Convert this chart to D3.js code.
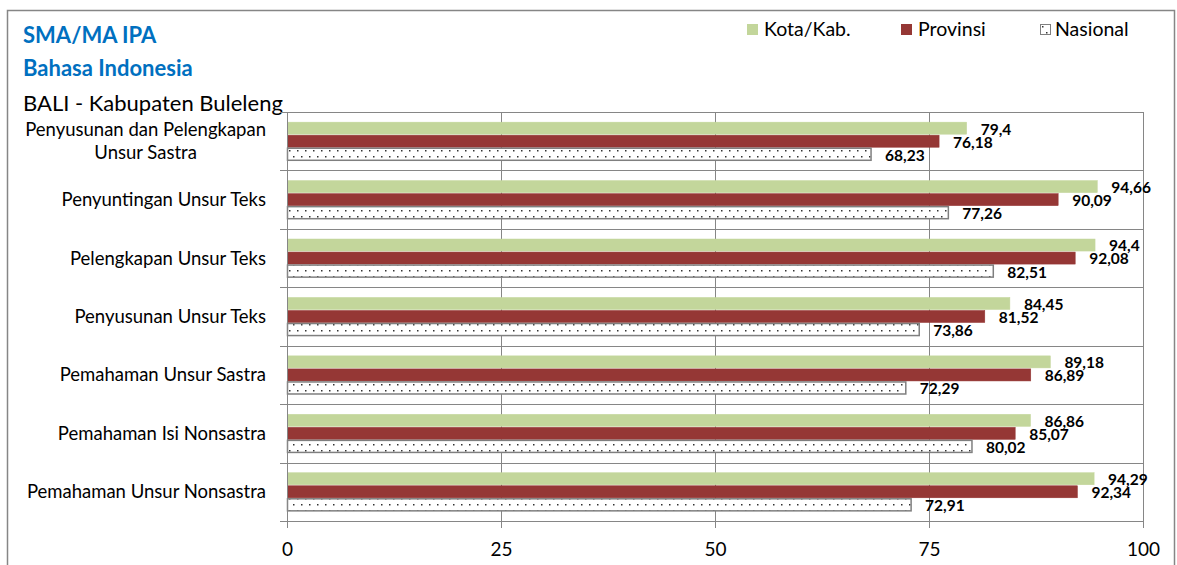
<!DOCTYPE html>
<html>
<head>
<meta charset="utf-8">
<script src="https://cdn.jsdelivr.net/npm/d3@7"></script>
<style>
  body { margin: 0; background: #fff; }
  svg { display: block; font-family: Lato, "Open Sans", sans-serif; }
</style>
</head>
<body>
<svg id="vis" width="1177" height="565"></svg>
<script>
/* global d3 */

// Data, top category first
const categories = [
  'Penyusunan dan Pelengkapan Unsur Sastra',
  'Penyuntingan Unsur Teks',
  'Pelengkapan Unsur Teks',
  'Penyusunan Unsur Teks',
  'Pemahaman Unsur Sastra',
  'Pemahaman Isi Nonsastra',
  'Pemahaman Unsur Nonsastra',
];
const seriesNames = ['Kota/Kab.', 'Provinsi', 'Nasional'];
const kotaValues = [79.4, 94.66, 94.4, 84.45, 89.18, 86.86, 94.29];
const provinsiValues = [76.18, 90.09, 92.08, 81.52, 86.89, 85.07, 92.34];
const nasionalValues = [68.23, 77.26, 82.51, 73.86, 72.29, 80.02, 72.91];
const xTicks = [0, 25, 50, 75, 100];
const titleLines = ['SMA/MA IPA', 'Bahasa Indonesia'];
const subtitle = 'BALI - Kabupaten Buleleng';

const values = [kotaValues, provinsiValues, nasionalValues];
const fills = ['#c3d69b', '#953735', 'url(#dots)'];
const strokes = ['#c3d69b', '#953735', '#7f7f7f'];

const svg = d3.select('#vis');
const margin = { top: 112, right: 34, bottom: 44, left: 287 };
const width = 1177 - margin.left - margin.right;
const height = 565 - margin.top - margin.bottom;

// Dotted pattern for the Nasional series
const defs = svg.append('defs');
const pat = defs.append('pattern')
  .attr('id', 'dots')
  .attr('patternUnits', 'userSpaceOnUse')
  .attr('width', 8)
  .attr('height', 12);
pat.append('rect').attr('width', 8).attr('height', 12).attr('fill', '#fff');
pat.append('rect').attr('x', 2).attr('y', 2).attr('width', 1.5).attr('height', 1.5).attr('fill', '#333');
pat.append('rect').attr('x', 6).attr('y', 8).attr('width', 1.5).attr('height', 1.5).attr('fill', '#333');

// Outer chart border
svg.append('rect')
  .attr('x', 7.5).attr('y', 10.5)
  .attr('width', 1167).attr('height', 600)
  .attr('fill', 'none')
  .attr('stroke', '#868686')
  .attr('stroke-width', 1.5);

// Titles
svg.selectAll('text.title')
  .data(titleLines)
  .enter()
  .append('text')
  .attr('class', 'title')
  .attr('x', 23)
  .attr('y', (d, i) => 43 + i * 33)
  .attr('fill', '#0070c0')
  .style('font-weight', 'bold')
  .style('font-size', '22px')
  .text((d) => d);

svg.append('text')
  .attr('x', 23)
  .attr('y', 111)
  .attr('fill', '#000')
  .style('font-size', '22px')
  .text(subtitle);

// Legend
const legendX = [747, 901, 1040];
const legend = svg.selectAll('g.legend')
  .data(seriesNames)
  .enter()
  .append('g')
  .attr('class', 'legend')
  .attr('transform', (d, i) => `translate(${legendX[i]}, 24)`);

legend.append('rect')
  .attr('x', (d, i) => (i === 2 ? 0.5 : 0))
  .attr('y', (d, i) => (i === 2 ? 0.5 : 0))
  .attr('width', (d, i) => (i === 2 ? 10 : 11))
  .attr('height', (d, i) => (i === 2 ? 10 : 11))
  .attr('fill', (d, i) => fills[i])
  .attr('stroke', (d, i) => (i === 2 ? '#7f7f7f' : 'none'));

legend.append('text')
  .attr('x', (d, i) => (i === 2 ? 15 : 17))
  .attr('y', 12)
  .style('font-size', '19.5px')
  .attr('fill', '#000')
  .text((d) => d);

const g = svg.append('g')
  .attr('transform', `translate(${margin.left}, ${margin.top})`);

const x = d3.scaleLinear().domain([0, 100]).range([0, width]);
const y = d3.scaleBand().domain(categories).range([0, height]).paddingInner(0);
const yInner = d3.scaleBand()
  .domain(d3.range(3))
  .range([0, y.bandwidth()])
  .paddingInner(0)
  .paddingOuter(0.74);

// Vertical gridlines
g.selectAll('line.vgrid')
  .data(xTicks.slice(1))
  .enter()
  .append('line')
  .attr('class', 'vgrid')
  .attr('x1', (d) => x(d) + 0.5)
  .attr('x2', (d) => x(d) + 0.5)
  .attr('y1', 0)
  .attr('y2', height)
  .attr('stroke', '#868686');

// Horizontal gridlines at category boundaries
const bounds = categories.map((c) => y(c)).concat([height]);
g.selectAll('line.hgrid')
  .data(bounds)
  .enter()
  .append('line')
  .attr('class', 'hgrid')
  .attr('x1', -7)
  .attr('x2', width)
  .attr('y1', (d) => Math.round(d) + 0.5)
  .attr('y2', (d) => Math.round(d) + 0.5)
  .attr('stroke', '#868686');

// Bars
const rows = [];
categories.forEach((c, ci) => {
  values.forEach((vals, si) => {
    rows.push({ cat: c, s: si, value: vals[ci] });
  });
});

g.selectAll('rect.bar')
  .data(rows)
  .enter()
  .append('rect')
  .attr('class', 'bar')
  .attr('x', 0.5)
  .attr('y', (d) => y(d.cat) + yInner(d.s) + 0.5)
  .attr('width', (d) => x(d.value) - 0.5)
  .attr('height', yInner.bandwidth() - 1)
  .attr('fill', (d) => fills[d.s])
  .attr('stroke', (d) => strokes[d.s])
  .attr('stroke-width', (d) => (d.s === 2 ? 1.5 : 0.5));

// Value labels
g.selectAll('text.val')
  .data(rows)
  .enter()
  .append('text')
  .attr('class', 'val')
  .attr('x', (d) => x(d.value) + 14)
  .attr('y', (d) => y(d.cat) + yInner(d.s) + yInner.bandwidth() / 2 + 1)
  .attr('dy', '0.35em')
  .style('font-size', '15.5px')
  .style('font-weight', 'bold')
  .attr('fill', '#000')
  .text((d) => String(d.value).replace('.', ','));

// Y axis line
g.append('line')
  .attr('x1', 0.5).attr('x2', 0.5)
  .attr('y1', 0).attr('y2', height)
  .attr('stroke', '#868686');

// X axis
const xAxis = g.append('g')
  .attr('transform', `translate(0, ${height})`)
  .call(d3.axisBottom(x).tickValues(xTicks).tickSize(7).tickPadding(15).tickFormat(d3.format('d')));
xAxis.selectAll('line, path').attr('stroke', '#868686');
xAxis.select('.domain').attr('d', `M0.5,0.5H${width}`);
xAxis.selectAll('text')
  .style('font-size', '19px')
  .style('font-family', 'Lato, sans-serif')
  .attr('fill', '#000');

// Category labels, wrapped lines centred on each other and right aligned
const wrapped = {
  'Penyusunan dan Pelengkapan Unsur Sastra': ['Penyusunan dan Pelengkapan', 'Unsur Sastra'],
};
const labelRight = -21;
categories.forEach((c) => {
  const lines = wrapped[c] || [c];
  const cy = y(c) + y.bandwidth() / 2;
  const t = g.append('text')
    .style('font-size', '18.5px')
    .attr('fill', '#000');
  const spans = lines.map((line, i) => t.append('tspan')
    .attr('y', cy + (i - (lines.length - 1) / 2) * 23)
    .attr('dy', '0.35em')
    .text(line));
  const maxW = d3.max(spans, (s) => s.node().getComputedTextLength());
  spans.forEach((s) => {
    s.attr('x', labelRight - maxW / 2).attr('text-anchor', 'middle');
  });
});
</script>
</body>
</html>
